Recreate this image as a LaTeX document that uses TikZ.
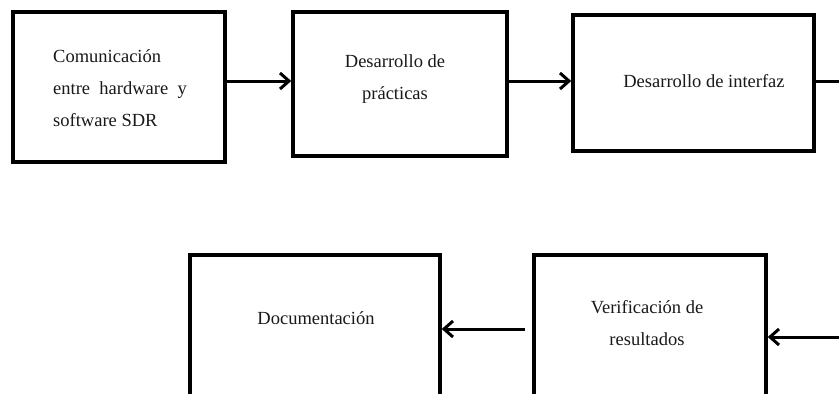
\documentclass[tikz,border=0pt]{standalone}
\usepackage{fontspec}
\setmainfont{Liberation Serif}
\usetikzlibrary{arrows.meta}
\begin{document}
\begin{tikzpicture}[x=1pt,y=-1pt,
  stepbox/.style={draw=black, line width=3.5pt, rectangle, inner sep=0pt},
  txt/.style={font=\fontsize{18.5}{32}\selectfont, inner sep=0pt, text=black!90},
  flow/.style={draw=black, line width=3pt, -{Straight Barb[length=9pt,width=16pt]}},
  plain/.style={draw=black, line width=3pt}]
\useasboundingbox (0,0) rectangle (839,394);
\clip (0,0) rectangle (839,394);
\fill[white] (0,0) rectangle (839,394);

% rows used by the connectors
\coordinate (r1) at (0,81);

% top row of steps
\node[stepbox, minimum width=212pt, minimum height=150pt] (b1) at (119,87) {};
\node[stepbox, minimum width=214pt, minimum height=144pt] (b2) at (400,84) {};
\node[stepbox, minimum width=241pt, minimum height=136pt] (b3) at (693.5,83) {};

% bottom row of steps (continues below the page edge)
\node[stepbox, minimum width=250pt, minimum height=165pt] (b4) at (315,337.5) {};
\node[stepbox, minimum width=232pt, minimum height=165pt] (b5) at (650,337.5) {};

% labels
\node[txt, anchor=west, align=left] (t1) at (53,88.5)
  {Comunicación\\entre \ hardware \ y\\software SDR};
\node[txt, align=center] (t2) at (395,79) {Desarrollo de\\prácticas};
\node[txt] (t3) at (704,81.5) {Desarrollo de interfaz};
\node[txt] (t4) at (316,318.5) {Documentación};
\node[txt, align=center] (t5) at (647,323) {Verificación de\\resultados};

% connectors
\coordinate (offR1) at (850,81);
\coordinate (offR2) at (850,337);
\coordinate (s5) at (525,329);
\draw[flow] (b1.east |- r1) -- (b2.west |- r1);
\draw[flow] (b2.east |- r1) -- (b3.west |- r1);
\draw[plain] (b3.east |- r1) -- (offR1);
\draw[flow] (offR2) -- (b5.east |- offR2);
\draw[flow] (s5) -- (b4.east |- s5);
\end{tikzpicture}
\end{document}
